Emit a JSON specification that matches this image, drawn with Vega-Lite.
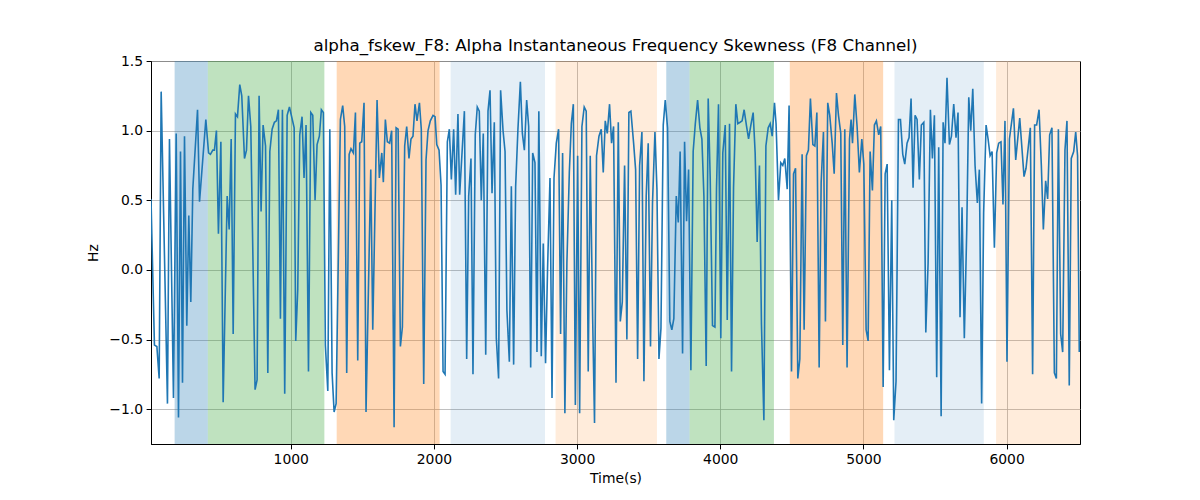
{
  "$schema": "https://vega.github.io/schema/vega-lite/v6.json",
  "width": 929,
  "height": 383,
  "autosize": "none",
  "padding": {"left": 151, "top": 61, "right": 120, "bottom": 56},
  "background": "white",
  "title": {"text": "alpha_fskew_F8: Alpha Instantaneous Frequency Skewness (F8 Channel)", "font": "DejaVu Sans", "fontSize": 16.7, "fontWeight": "normal", "color": "black", "offset": -1},
  "config": {
    "view": {"stroke": "black", "strokeWidth": 1},
    "axis": {"labelFont": "DejaVu Sans", "titleFont": "DejaVu Sans", "labelFontSize": 13.9, "titleFontSize": 13.9, "titleFontWeight": "normal", "labelColor": "black", "titleColor": "black", "tickColor": "black", "domainColor": "black", "tickSize": 4.9, "labelPadding": 3.5, "grid": true, "gridColor": "#b0b0b0", "gridWidth": 0.8}
  },
  "datasets": {
    "spans": [
      {"start": 189, "end": 421, "kind": "A"},
      {"start": 421, "end": 1235, "kind": "B"},
      {"start": 1321, "end": 2040, "kind": "C"},
      {"start": 2117, "end": 2776, "kind": "D"},
      {"start": 2850, "end": 3558, "kind": "E"},
      {"start": 3623, "end": 3786, "kind": "A"},
      {"start": 3786, "end": 4375, "kind": "B"},
      {"start": 4486, "end": 5138, "kind": "C"},
      {"start": 5217, "end": 5841, "kind": "D"},
      {"start": 5927, "end": 6513, "kind": "E"}
    ],
    "series": [
      {"t":24,"v":0.51},{"t":48,"v":-0.54},{"t":65,"v":-0.55},{"t":81,"v":-0.78},{"t":95,"v":1.28},{"t":139,"v":-0.96},{"t":153,"v":0.94},{"t":181,"v":-0.92},{"t":200,"v":0.98},{"t":216,"v":-1.06},{"t":230,"v":0.85},{"t":244,"v":-0.81},{"t":258,"v":0.96},{"t":274,"v":-0.40},{"t":288,"v":0.39},{"t":302,"v":-0.23},{"t":316,"v":0.58},{"t":349,"v":1.15},{"t":363,"v":0.49},{"t":407,"v":1.08},{"t":426,"v":0.84},{"t":439,"v":0.83},{"t":456,"v":0.86},{"t":467,"v":0.86},{"t":481,"v":1.00},{"t":495,"v":0.26},{"t":512,"v":0.92},{"t":528,"v":-0.95},
      {"t":556,"v":0.53},{"t":570,"v":0.29},{"t":584,"v":0.94},{"t":598,"v":-0.46},{"t":614,"v":1.12},{"t":628,"v":1.10},{"t":644,"v":1.33},{"t":658,"v":1.25},{"t":677,"v":0.80},{"t":691,"v":0.86},{"t":705,"v":1.25},{"t":721,"v":1.03},{"t":751,"v":-0.86},{"t":765,"v":-0.79},{"t":779,"v":1.25},{"t":793,"v":0.42},{"t":807,"v":1.04},{"t":824,"v":0.89},{"t":840,"v":-0.74},{"t":854,"v":0.85},{"t":870,"v":1.01},{"t":886,"v":1.06},{"t":900,"v":1.07},{"t":914,"v":1.15},{"t":928,"v":-0.35},{"t":942,"v":1.15},{"t":958,"v":-0.89},{"t":975,"v":1.11},{"t":991,"v":1.17},{"t":1024,"v":1.02},{"t":1035,"v":-0.51},{"t":1049,"v":-0.14},{"t":1063,"v":0.97},{"t":1079,"v":1.10},{"t":1093,"v":0.66},
      {"t":1107,"v":1.04},{"t":1124,"v":-0.73},{"t":1140,"v":1.13},{"t":1154,"v":1.11},{"t":1170,"v":0.50},{"t":1184,"v":0.90},{"t":1200,"v":0.96},{"t":1214,"v":1.15},{"t":1228,"v":1.13},{"t":1242,"v":-0.54},{"t":1259,"v":-0.87},{"t":1273,"v":1.01},{"t":1289,"v":-0.74},{"t":1303,"v":-1.02},{"t":1317,"v":-0.96},{"t":1347,"v":1.08},{"t":1363,"v":1.18},{"t":1377,"v":1.03},{"t":1391,"v":-0.74},{"t":1408,"v":0.83},{"t":1421,"v":0.87},{"t":1438,"v":0.84},{"t":1452,"v":1.13},{"t":1468,"v":-0.65},{"t":1482,"v":0.91},{"t":1496,"v":0.92},{"t":1512,"v":1.20},{"t":1526,"v":-1.02},{"t":1559,"v":0.72},{"t":1573,"v":-0.43},{"t":1603,"v":1.22},{"t":1619,"v":0.66},{"t":1636,"v":0.84},
      {"t":1647,"v":0.63},{"t":1661,"v":1.08},{"t":1675,"v":0.92},{"t":1691,"v":0.91},{"t":1705,"v":1.00},{"t":1722,"v":-1.13},{"t":1736,"v":1.02},{"t":1750,"v":1.01},{"t":1766,"v":-0.55},{"t":1780,"v":-0.41},{"t":1796,"v":0.89},{"t":1810,"v":1.03},{"t":1826,"v":0.80},{"t":1840,"v":0.94},{"t":1854,"v":0.96},{"t":1868,"v":1.19},{"t":1882,"v":1.07},{"t":1899,"v":1.20},{"t":1912,"v":1.01},{"t":1929,"v":-0.82},{"t":1945,"v":0.79},{"t":1959,"v":1.00},{"t":1975,"v":1.07},{"t":1994,"v":1.11},{"t":2008,"v":1.10},{"t":2020,"v":0.90},{"t":2036,"v":0.86},{"t":2050,"v":0.61},{"t":2064,"v":-0.73},{"t":2078,"v":-0.75},{"t":2094,"v":0.92},{"t":2108,"v":1.01},{"t":2122,"v":0.65},{"t":2138,"v":1.01},{"t":2152,"v":0.54},{"t":2168,"v":1.12},{"t":2180,"v":0.54},
      {"t":2213,"v":1.14},{"t":2229,"v":-0.64},{"t":2243,"v":0.53},{"t":2259,"v":0.80},{"t":2273,"v":-0.75},{"t":2289,"v":0.97},{"t":2303,"v":1.17},{"t":2317,"v":1.14},{"t":2331,"v":0.50},{"t":2345,"v":0.98},{"t":2362,"v":-0.61},{"t":2378,"v":1.14},{"t":2392,"v":1.29},{"t":2406,"v":0.55},{"t":2422,"v":1.06},{"t":2436,"v":-0.49},{"t":2452,"v":-0.78},{"t":2466,"v":1.29},{"t":2483,"v":1.00},{"t":2497,"v":0.85},{"t":2510,"v":-0.29},{"t":2527,"v":-0.66},{"t":2541,"v":0.60},{"t":2557,"v":-0.68},{"t":2571,"v":0.60},{"t":2587,"v":1.01},{"t":2604,"v":1.35},{"t":2618,"v":0.98},{"t":2632,"v":0.86},{"t":2648,"v":1.22},{"t":2662,"v":1.03},{"t":2676,"v":-0.70},{"t":2690,"v":0.84},{"t":2706,"v":0.77},{"t":2720,"v":-0.59},
      {"t":2733,"v":1.14},{"t":2750,"v":-0.62},{"t":2764,"v":0.19},{"t":2780,"v":-0.67},{"t":2794,"v":0.01},{"t":2811,"v":0.66},{"t":2825,"v":-0.92},{"t":2839,"v":0.66},{"t":2855,"v":0.91},{"t":2871,"v":1.01},{"t":2885,"v":-0.46},{"t":2899,"v":0.84},{"t":2915,"v":-1.03},{"t":2929,"v":0.05},{"t":2946,"v":0.70},{"t":2960,"v":1.05},{"t":2974,"v":1.19},{"t":2988,"v":-0.97},{"t":3004,"v":0.82},{"t":3018,"v":-1.03},{"t":3034,"v":1.03},{"t":3050,"v":1.17},{"t":3064,"v":1.14},{"t":3078,"v":-0.73},{"t":3092,"v":0.82},{"t":3109,"v":-0.35},{"t":3122,"v":-1.10},{"t":3136,"v":0.82},{"t":3153,"v":0.96},{"t":3169,"v":1.01},{"t":3183,"v":0.70},{"t":3197,"v":1.07},{"t":3211,"v":0.98},{"t":3227,"v":1.19},{"t":3241,"v":0.91},{"t":3255,"v":1.03},{"t":3272,"v":-0.81},
      {"t":3288,"v":1.06},{"t":3302,"v":-0.37},{"t":3316,"v":-0.23},{"t":3332,"v":0.75},{"t":3348,"v":-0.50},{"t":3362,"v":1.13},{"t":3376,"v":1.14},{"t":3395,"v":0.91},{"t":3409,"v":0.72},{"t":3423,"v":-0.64},{"t":3437,"v":0.75},{"t":3453,"v":0.99},{"t":3467,"v":-0.80},{"t":3483,"v":0.53},{"t":3497,"v":0.91},{"t":3513,"v":-0.55},{"t":3527,"v":0.48},{"t":3544,"v":0.99},{"t":3558,"v":0.58},{"t":3572,"v":-0.64},{"t":3586,"v":-0.42},{"t":3602,"v":1.04},{"t":3616,"v":1.22},{"t":3632,"v":1.02},{"t":3648,"v":-0.37},{"t":3662,"v":-0.43},{"t":3676,"v":-0.35},{"t":3693,"v":0.53},{"t":3707,"v":0.34},{"t":3720,"v":0.85},{"t":3737,"v":-0.60},{"t":3751,"v":0.92},{"t":3765,"v":0.35},{"t":3779,"v":0.72},{"t":3795,"v":-0.72},{"t":3811,"v":0.85},
      {"t":3826,"v":1.05},{"t":3842,"v":1.22},{"t":3858,"v":1.02},{"t":3872,"v":0.94},{"t":3886,"v":0.53},{"t":3902,"v":-0.69},{"t":3916,"v":1.23},{"t":3930,"v":0.66},{"t":3946,"v":-0.40},{"t":3963,"v":-0.41},{"t":3974,"v":0.58},{"t":3988,"v":1.19},{"t":4004,"v":-0.49},{"t":4018,"v":0.84},{"t":4035,"v":1.04},{"t":4049,"v":-0.36},{"t":4065,"v":1.05},{"t":4079,"v":-0.73},{"t":4093,"v":0.59},{"t":4109,"v":1.19},{"t":4123,"v":1.05},{"t":4139,"v":1.06},{"t":4153,"v":1.07},{"t":4167,"v":1.15},{"t":4184,"v":1.03},{"t":4198,"v":0.94},{"t":4214,"v":1.04},{"t":4230,"v":1.13},{"t":4244,"v":0.84},{"t":4258,"v":0.20},{"t":4274,"v":0.75},{"t":4288,"v":-0.39},{"t":4305,"v":-1.08},{"t":4319,"v":0.89},{"t":4335,"v":1.02},{"t":4349,"v":1.05},{"t":4363,"v":0.96},
      {"t":4379,"v":1.20},{"t":4390,"v":1.05},{"t":4407,"v":0.50},{"t":4423,"v":0.77},{"t":4437,"v":0.75},{"t":4451,"v":0.80},{"t":4468,"v":0.58},{"t":4481,"v":1.18},{"t":4498,"v":-0.73},{"t":4512,"v":0.69},{"t":4526,"v":0.73},{"t":4542,"v":-0.78},{"t":4556,"v":-0.64},{"t":4572,"v":0.83},{"t":4586,"v":-0.43},{"t":4602,"v":0.82},{"t":4616,"v":0.86},{"t":4630,"v":1.23},{"t":4647,"v":0.90},{"t":4661,"v":0.89},{"t":4675,"v":1.13},{"t":4691,"v":-0.70},{"t":4705,"v":0.63},{"t":4721,"v":0.99},{"t":4735,"v":-0.37},{"t":4751,"v":1.20},{"t":4765,"v":1.11},{"t":4782,"v":0.91},{"t":4796,"v":0.69},{"t":4812,"v":1.27},{"t":4826,"v":1.11},{"t":4842,"v":0.98},{"t":4856,"v":-0.54},{"t":4870,"v":1.01},{"t":4886,"v":-0.70},{"t":4903,"v":0.94},
      {"t":4914,"v":1.08},{"t":4924,"v":0.91},{"t":4940,"v":1.26},{"t":4956,"v":1.03},{"t":4972,"v":0.70},{"t":4989,"v":0.94},{"t":5003,"v":0.76},{"t":5019,"v":-0.43},{"t":5033,"v":-0.51},{"t":5047,"v":0.85},{"t":5063,"v":0.57},{"t":5077,"v":1.04},{"t":5091,"v":1.07},{"t":5107,"v":0.97},{"t":5121,"v":1.03},{"t":5138,"v":-0.84},{"t":5152,"v":0.69},{"t":5166,"v":0.76},{"t":5182,"v":-0.72},{"t":5198,"v":0.50},{"t":5212,"v":-1.08},{"t":5228,"v":-0.80},{"t":5245,"v":1.08},{"t":5259,"v":1.08},{"t":5275,"v":0.83},{"t":5289,"v":0.76},{"t":5305,"v":0.91},{"t":5319,"v":0.95},{"t":5333,"v":1.23},{"t":5347,"v":0.59},{"t":5361,"v":1.11},{"t":5375,"v":1.08},{"t":5391,"v":0.65},{"t":5405,"v":1.04},{"t":5422,"v":1.06},{"t":5436,"v":-0.45},{"t":5452,"v":0.05},
      {"t":5468,"v":1.15},{"t":5482,"v":0.80},{"t":5496,"v":1.11},{"t":5512,"v":-0.77},{"t":5526,"v":0.88},{"t":5543,"v":-1.05},{"t":5557,"v":1.06},{"t":5570,"v":0.91},{"t":5584,"v":1.38},{"t":5601,"v":0.90},{"t":5615,"v":0.96},{"t":5631,"v":1.19},{"t":5647,"v":0.95},{"t":5661,"v":1.13},{"t":5675,"v":-0.34},{"t":5689,"v":0.45},{"t":5705,"v":-0.49},{"t":5722,"v":0.29},{"t":5736,"v":1.24},{"t":5750,"v":1.00},{"t":5764,"v":1.30},{"t":5780,"v":0.75},{"t":5796,"v":0.48},{"t":5810,"v":0.72},{"t":5826,"v":-0.96},{"t":5840,"v":0.41},{"t":5857,"v":1.04},{"t":5871,"v":0.94},{"t":5885,"v":0.82},{"t":5899,"v":0.85},{"t":5915,"v":0.16},{"t":5931,"v":0.84},{"t":5945,"v":0.91},{"t":5961,"v":0.92},{"t":5975,"v":0.47},{"t":5989,"v":1.07},
      {"t":6003,"v":-0.66},{"t":6020,"v":0.94},{"t":6048,"v":1.16},{"t":6064,"v":0.79},{"t":6092,"v":1.09},{"t":6122,"v":0.67},{"t":6136,"v":0.73},{"t":6166,"v":1.02},{"t":6182,"v":-0.75},{"t":6196,"v":1.04},{"t":6210,"v":1.04},{"t":6227,"v":1.15},{"t":6243,"v":0.75},{"t":6257,"v":0.29},{"t":6273,"v":0.64},{"t":6287,"v":0.51},{"t":6301,"v":0.97},{"t":6317,"v":1.02},{"t":6334,"v":-0.74},{"t":6348,"v":-0.78},{"t":6362,"v":1.01},{"t":6378,"v":-0.46},{"t":6392,"v":-0.59},{"t":6408,"v":0.86},{"t":6422,"v":1.07},{"t":6438,"v":-0.83},{"t":6452,"v":0.80},{"t":6469,"v":0.85},{"t":6483,"v":0.99},{"t":6496,"v":0.82},{"t":6508,"v":-0.59}
    ]
  },
  "layer": [
    {
      "data": {"name": "spans"},
      "mark": {"type": "rect", "strokeWidth": 0},
      "encoding": {
        "x": {"field": "start", "type": "quantitative", "scale": {"domain": [24, 6513], "nice": false, "zero": false}, "axis": {"title": "Time(s)", "values": [1000, 2000, 3000, 4000, 5000, 6000], "format": "d", "titlePadding": 5}},
        "x2": {"field": "end"},
        "fill": {"field": "kind", "type": "nominal", "scale": {"domain": ["A", "B", "C", "D", "E"], "range": ["rgba(31,119,180,0.3)", "rgba(44,160,44,0.3)", "rgba(255,127,14,0.3)", "rgba(31,119,180,0.12)", "rgba(255,127,14,0.15)"]}, "legend": null}
      }
    },
    {
      "data": {"name": "series"},
      "mark": {"type": "line", "color": "#1f77b4", "strokeWidth": 1.6, "clip": true},
      "encoding": {
        "x": {"field": "t", "type": "quantitative"},
        "y": {"field": "v", "type": "quantitative", "scale": {"domain": [-1.25, 1.5], "nice": false, "zero": false}, "axis": {"title": "Hz", "values": [-1, -0.5, 0, 0.5, 1, 1.5], "format": ".1f", "titlePadding": 8}}
      }
    }
  ]
}
